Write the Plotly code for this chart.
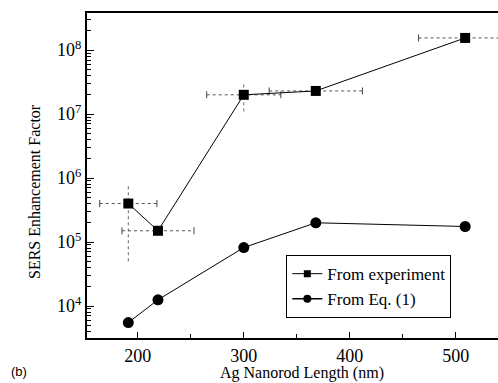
import plotly.graph_objects as go

# ---- data ----
length_nm = [191, 219, 300, 368, 509]
exp_ef = [4.0e5, 1.5e5, 2.0e7, 2.3e7, 1.55e8]
exp_xerr = [27, 34, 35, 44, 44]
exp_yerr = [3.5e5, 0, 9.0e6, 0, 1.5e7]
eq_ef = [5.5e3, 1.25e4, 8.2e4, 2.0e5, 1.75e5]

y_major = [1e4, 1e5, 1e6, 1e7, 1e8]
y_major_text = ["10<sup>4</sup>", "10<sup>5</sup>", "10<sup>6</sup>", "10<sup>7</sup>", "10<sup>8</sup>"]
x_major = [200, 300, 400, 500]
x_minor = [250, 350, 450]

FONT = "Liberation Serif, Times New Roman, serif"
y_minor = [k * 10 ** n for n in range(3, 9) for k in range(2, 10)]

fig = go.Figure()

# horizontal error bars (dotted)
ex_x, ex_y = [], []
cap_x, cap_y = [], []
for x, y, e in zip(length_nm, exp_ef, exp_xerr):
    ex_x += [x - e, x + e, None]
    ex_y += [y, y, None]
    cap_x += [x - e, x + e]
    cap_y += [y, y]
fig.add_trace(go.Scatter(x=ex_x, y=ex_y, mode="lines",
                         line=dict(color="#555", width=1, dash="dot"),
                         showlegend=False, hoverinfo="skip"))
fig.add_trace(go.Scatter(x=cap_x, y=cap_y, mode="markers",
                         marker=dict(symbol="line-ns", size=5,
                                     line=dict(color="#444", width=1)),
                         showlegend=False, hoverinfo="skip"))
# vertical error bars (dotted)
ey_x, ey_y = [], []
for x, y, e in zip(length_nm, exp_ef, exp_yerr):
    if e > 0:
        ey_x += [x, x, None]
        ey_y += [y - e, y + e, None]
fig.add_trace(go.Scatter(x=ey_x, y=ey_y, mode="lines",
                         line=dict(color="#666", width=1, dash="dot"),
                         showlegend=False, hoverinfo="skip"))

# main series
fig.add_trace(go.Scatter(x=length_nm, y=exp_ef, mode="lines+markers",
                         line=dict(color="black", width=1),
                         marker=dict(symbol="square", size=10, color="black"),
                         showlegend=False))
fig.add_trace(go.Scatter(x=length_nm, y=eq_ef, mode="lines+markers",
                         line=dict(color="black", width=1),
                         marker=dict(symbol="circle", size=11, color="black"),
                         showlegend=False))

# legend entries
fig.add_trace(go.Scatter(x=[None], y=[None], mode="lines+markers", name="From experiment",
                         line=dict(color="black", width=1),
                         marker=dict(symbol="square", size=7, color="black")))
fig.add_trace(go.Scatter(x=[None], y=[None], mode="lines+markers", name="From Eq. (1)",
                         line=dict(color="black", width=1.5),
                         marker=dict(symbol="circle", size=8, color="black")))

fig.update_layout(
    width=498, height=383,
    margin=dict(l=87, r=0, t=13, b=45),
    paper_bgcolor="white", plot_bgcolor="white",
    font=dict(family=FONT, size=18, color="black"),
    legend=dict(x=0.485, y=0.255, xanchor="left", yanchor="top",
                bordercolor="black", borderwidth=1, bgcolor="white",
                font=dict(family=FONT, size=17), itemwidth=30,
                tracegroupgap=0),
    xaxis=dict(range=[152, 540], showline=True, linecolor="black", linewidth=2,
               mirror=True, showgrid=False, zeroline=False,
               tickmode="array", tickvals=x_major,
               ticks="inside", ticklen=6, tickwidth=1, tickcolor="black",
               tickfont=dict(family=FONT, size=18),
               minor=dict(tickmode="array", tickvals=x_minor, ticks="inside",
                          ticklen=4, tickcolor="black", showgrid=False)),
    yaxis=dict(type="log", range=[3.5, 8.58], showline=True, linecolor="black",
               linewidth=2, mirror=False, showgrid=False, zeroline=False,
               tickmode="array", tickvals=y_major, ticktext=y_major_text,
               ticks="inside", ticklen=7, tickwidth=1, tickcolor="black",
               tickfont=dict(family=FONT, size=18),
               minor=dict(tickmode="array", tickvals=y_minor, ticks="inside",
                          ticklen=4, tickcolor="black", showgrid=False)),
    annotations=[
        dict(text="Ag Nanorod Length (nm)", x=302, y=373,
             showarrow=False, font=dict(family=FONT, size=16)),
        dict(text="SERS Enhancement Factor", textangle=-90, x=34, y=191,
             showarrow=False, font=dict(family=FONT, size=16)),
        dict(text="(b)", x=19, y=371, showarrow=False,
             font=dict(family="Liberation Sans, Arial, sans-serif", size=13)),
    ],
)

# convert pixel annotation positions to paper coords
pw, ph = 498 - 87, 383 - 13 - 45
for a in fig.layout.annotations:
    px, py = a.x, a.y
    a.xref = "paper"
    a.yref = "paper"
    a.x = (px - 87) / pw
    a.y = (383 - 45 - py) / ph
    a.xanchor = "center"
    a.yanchor = "middle"

fig.write_html("out.html", config={"displayModeBar": False},
               post_script="document.body.style.margin='0';document.body.style.overflow='hidden';")
